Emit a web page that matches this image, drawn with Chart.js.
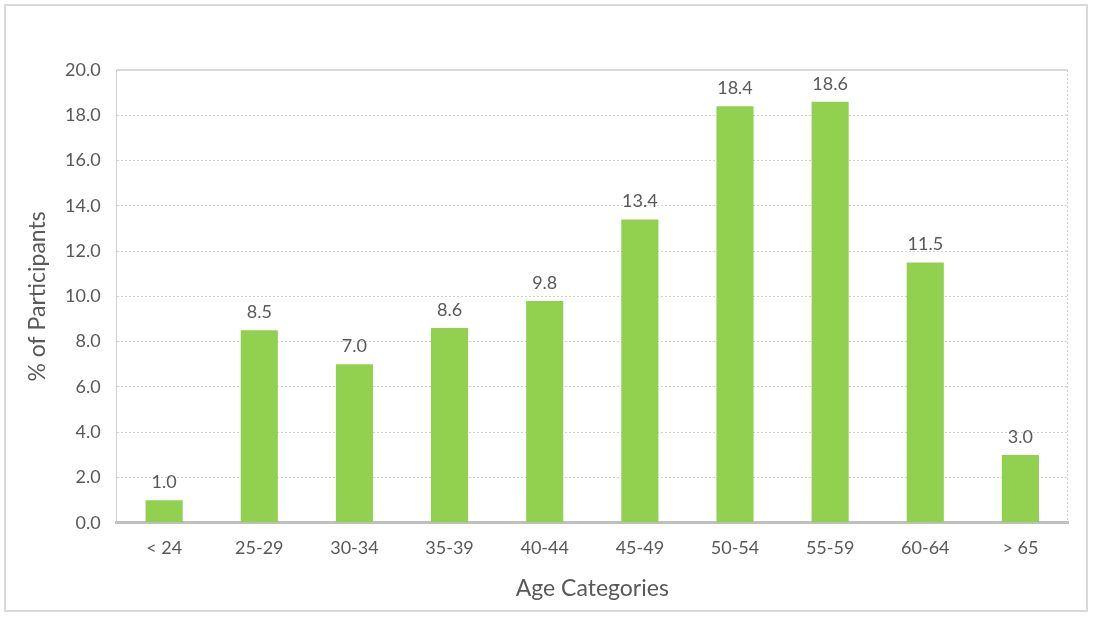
<!DOCTYPE html>
<html>
<head>
<meta charset="utf-8">
<script src="https://cdn.jsdelivr.net/npm/chart.js@4/dist/chart.umd.min.js"></script>
<style>
	html, body { margin: 0; padding: 0; background: #ffffff; }
	#frame {
		position: absolute; left: 4px; top: 4px;
		width: 1084px; height: 608px;
		border: 2px solid #d9d9d9; box-sizing: border-box;
	}
	#wrap { position: absolute; left: 0; top: 0; width: 1094px; height: 619px; }
</style>
</head>
<body>
<div id="frame"></div>
<div id="wrap"><canvas id="chart"></canvas></div>
<script>
const ageCategories = ['< 24', '25-29', '30-34', '35-39', '40-44', '45-49', '50-54', '55-59', '60-64', '> 65'];
const participantPct = [1.0, 8.5, 7.0, 8.6, 9.8, 13.4, 18.4, 18.6, 11.5, 3.0];

const textColor = '#595959';
const fontFamily = 'Lato, "Open Sans", sans-serif';

// draws the value above each bar
const valueLabels = {
	id: 'valueLabels',
	afterDatasetsDraw(chart)
	{
		const ctx = chart.ctx;
		const meta = chart.getDatasetMeta(0);
		ctx.save();
		ctx.fillStyle = textColor;
		ctx.font = '18px ' + fontFamily;
		ctx.textAlign = 'center';
		ctx.textBaseline = 'bottom';
		meta.data.forEach((bar, i) => {
			ctx.fillText(participantPct[i].toFixed(1), bar.x, bar.y - 9);
		});
		ctx.restore();
	}
};

// solid line on top, dotted line on the right of the plot area
const frameLines = {
	id: 'frameLines',
	beforeDatasetsDraw(chart)
	{
		const a = chart.chartArea;
		const y = chart.scales.y.getPixelForValue(20);
		const ctx = chart.ctx;
		ctx.save();
		ctx.strokeStyle = '#d0d0d0';
		ctx.lineWidth = 1;
		ctx.setLineDash([2, 2]);
		ctx.beginPath();
		ctx.moveTo(a.right - 0.5, a.top);
		ctx.lineTo(a.right - 0.5, a.bottom);
		ctx.stroke();
		ctx.setLineDash([]);
		ctx.strokeStyle = '#d9d9d9';
		ctx.lineWidth = 2;
		ctx.beginPath();
		ctx.moveTo(a.left, y);
		ctx.lineTo(a.right, y);
		ctx.stroke();
		ctx.restore();
	}
};

new Chart(document.getElementById('chart'), {
	type: 'bar',
	data: {
		labels: ageCategories,
		datasets: [{
			data: participantPct,
			backgroundColor: '#92d050',
			barPercentage: 0.39,
			categoryPercentage: 1.0
		}]
	},
	options: {
		responsive: true,
		maintainAspectRatio: false,
		animation: false,
		layout: { padding: { left: 24, right: 26, top: 70, bottom: 17 } },
		plugins: {
			legend: { display: false },
			tooltip: { enabled: false }
		},
		scales: {
			x: {
				grid: {
					display: true,
					drawOnChartArea: false,
					drawTicks: false
				},
				border: { display: true, color: '#bfbfbf', width: 3 },
				ticks: { color: textColor, font: { size: 18, family: fontFamily }, padding: 15 },
				title: {
					display: true,
					text: 'Age Categories',
					color: textColor,
					font: { size: 23, family: fontFamily },
					padding: { top: 0, bottom: 0 }
				}
			},
			y: {
				min: 0,
				max: 20,
				ticks: {
					stepSize: 2,
					color: textColor,
					font: { size: 18, family: fontFamily },
					padding: 16,
					callback: v => v.toFixed(1)
				},
				grid: {
					color: '#d0d0d0',
					lineWidth: 1,
					drawTicks: false
				},
				border: { display: true, dash: [2, 2], color: '#d0d0d0' },
				title: {
					display: true,
					text: '% of Participants',
					color: textColor,
					font: { size: 23, family: fontFamily, lineHeight: 1 },
					padding: { top: 2, bottom: 0 }
				}
			}
		}
	},
	plugins: [valueLabels, frameLines]
});
</script>
</body>
</html>
